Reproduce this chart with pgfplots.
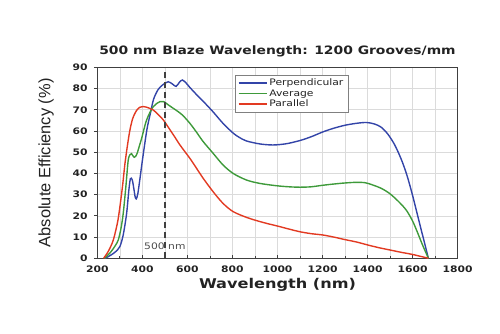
\documentclass[border=0pt]{standalone}
\usepackage{pgfplots}
\pgfplotsset{compat=1.18}
\usepackage{fontspec}
\setmainfont{DejaVu Sans}[FakeStretch=1.2]
\newfontfamily\arialfont{Liberation Sans}
\definecolor{cblue}{HTML}{3344A8}
\definecolor{cgreen}{HTML}{3E9A3A}
\definecolor{cred}{HTML}{E23A22}
\definecolor{txt}{HTML}{222222}
\begin{document}
\begin{tikzpicture}
\begin{axis}[
  at={(0,0)}, anchor=south west,
  scale only axis, width=360.4bp, height=191bp,
  xmin=200, xmax=1800, ymin=0, ymax=90,
  xtick={200,400,...,1800}, ytick={0,10,...,90},
  minor x tick num=1,
  grid=both,
  major grid style={draw=black!14, line width=0.6pt},
  minor grid style={draw=black!14, line width=0.6pt},
  axis line style={draw=black!75, line width=0.9pt},
  xtick pos=bottom, ytick pos=left,
  x tick style={draw=black!75, line width=0.8pt},
  y tick style={draw=black!75, line width=0.8pt},
  xtick align=inside, ytick align=outside,
  major tick length=3.5bp, minor tick length=2.5bp,
  /pgf/number format/assume math mode=true,
  /pgf/number format/1000 sep={},
  tick label style={font=\bfseries\fontsize{9}{10}\selectfont, text=txt},
  xticklabel style={anchor=base, yshift=-14bp, inner sep=0pt},
  yticklabel style={anchor=east, xshift=-6bp, inner sep=0pt},
  xlabel={Wavelength (nm)},
  xlabel style={at={(axis description cs:0.5,0)}, anchor=base, yshift=-30bp, font=\bfseries\fontsize{13.5}{14}\selectfont, text=txt},
  ylabel={Absolute Efficiency (\%)},
  ylabel style={at={(axis description cs:0,0.5)}, anchor=base, yshift=47bp, font=\arialfont\fontsize{16.5}{17}\selectfont, text=txt},
  legend style={at={(axis cs:810,86.4)}, anchor=north west, draw=black!50, line width=0.6pt,
     font=\fontsize{9}{10}\selectfont, text=txt, fill=white,
     inner xsep=3bp, inner ysep=1.5bp, row sep=-1.5bp,
     cells={anchor=west}},
  legend image code/.code={\draw[#1] (0bp,0bp) -- (28bp,0bp);},
  every axis plot/.append style={line width=1.4pt, mark=none},
]
\addplot[cblue, smooth] coordinates {
(235,0) (260,1.5) (280,3) (300,5.5) (315,11) (330,21) (340,32) (347,37.5) (355,37) (362,33) (368,29) (373,28)
(380,30.5) (390,38) (400,46) (420,60.5) (435,68) (450,75) (470,79.5) (490,81.7) (515,83.2) (535,82) (550,81)
(565,83) (578,84) (595,82.5) (611,80.5) (640,77.2) (670,74) (714,69) (758,63.6) (803,59) (830,57) (862,55.3)
(921,53.9) (980,53.4) (1040,54) (1100,55.5) (1150,57.3) (1200,59.5) (1250,61.3) (1300,62.7) (1350,63.6)
(1395,64) (1430,63.3) (1460,61.8) (1490,58.5) (1520,53.5) (1550,46.5) (1575,39) (1600,29.5) (1620,21)
(1645,10.5) (1670,0)};
\addlegendentry{Perpendicular}
\addplot[cgreen, smooth] coordinates {
(232,0) (260,3) (280,6) (293,8.6) (305,14) (315,21) (327,34) (337,46) (345,48.8) (352,49.3) (358,48.3)
(364,47.6) (370,48) (377,49.5) (387,53) (397,56.6) (419,65.2) (448,71.4) (478,73.8) (495,73.8) (515,72.3)
(537,70.7) (559,69.1) (580,67.3) (611,63.6) (640,59.5) (670,55) (714,49.5) (758,44) (803,40) (862,36.9)
(921,35.3) (995,34.2) (1050,33.7) (1100,33.5) (1150,33.7) (1200,34.4) (1250,35) (1300,35.5) (1350,35.8)
(1390,35.6) (1424,34.5) (1460,33) (1497,30.6) (1535,27) (1571,22.8) (1600,17.5) (1623,11.8) (1645,6) (1670,0)};
\addlegendentry{Average}
\addplot[cred, smooth] coordinates {
(228,0) (250,3.5) (271,8.6) (290,17) (300,24) (312,34) (323,44.8) (335,54) (345,60.5) (356,65.5) (367,68.3)
(378,70.2) (389,71.2) (405,71.5) (419,71.2) (448,69.9) (470,67.8) (493,65.2) (520,61) (545,57) (567,53.4)
(611,47.1) (640,42.5) (670,37.7) (714,31.4) (758,25.9) (803,22) (862,19.3) (906,17.8) (950,16.5) (1000,15.2)
(1050,13.8) (1100,12.5) (1150,11.6) (1200,11) (1250,10) (1300,8.8) (1350,7.7) (1400,6.3) (1450,5) (1500,3.9)
(1550,2.8) (1600,1.8) (1670,0)};
\addlegendentry{Parallel}
\addplot[black!75, line width=1.6pt, dash pattern=on 6bp off 4bp, forget plot] coordinates {(500,0) (500,90)};
\node[font=\fontsize{9}{10}\selectfont, text=black!70] at (axis cs:500,5.5) {500 nm};
\end{axis}
\node[font=\bfseries\fontsize{11.6}{12}\selectfont, text=txt, anchor=base] at (180.2bp,204bp) {500 nm Blaze Wavelength: 1200 Grooves/mm};
\path (-97.3bp,-75.7bp) rectangle (402.7bp,258.3bp);
\end{tikzpicture}
\end{document}
